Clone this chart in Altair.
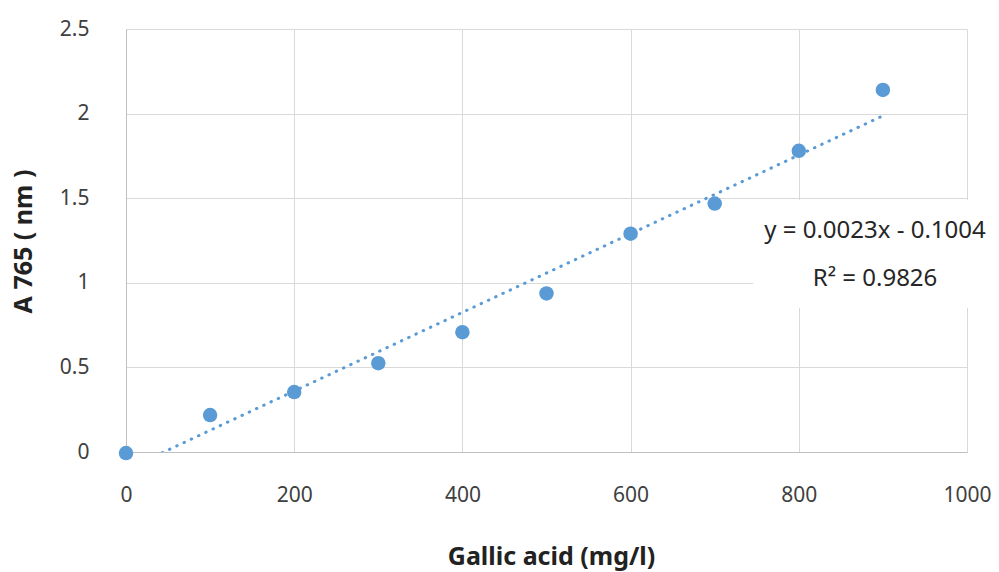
import altair as alt
import pandas as pd

gallic = [0, 100, 200, 300, 400, 500, 600, 700, 800, 900]
absorb = [-0.006, 0.218, 0.354, 0.525, 0.708, 0.937, 1.29, 1.468, 1.78, 2.14]
eq_lines = ["y = 0.0023x - 0.1004", "R² = 0.9826"]

df = pd.DataFrame({"x": gallic, "y": absorb})
blue = "#5B9BD5"
font = "Noto Sans"

xs = alt.Scale(domain=[0, 1000], nice=False)
ys = alt.Scale(domain=[0, 2.5], nice=False)

xaxis = alt.Axis(values=list(range(0, 1001, 200)), title="Gallic acid (mg/l)", grid=True, format="d",
                 ticks=False, labelPadding=32, labelFontSize=21, labelFont=font, labelColor="#404040",
                 labelFlush=False,
                 titleFont=font, titleFontSize=25, titleFontWeight="bold", titleColor="#222222",
                 titleX=425, titleY=104, titleBaseline="middle", titleAlign="center",
                 domainColor="#bfbfbf", gridColor="#d9d9d9")
yaxis = alt.Axis(values=[0, 0.5, 1, 1.5, 2, 2.5], title="A 765 ( nm )", grid=True, format="~g",
                 ticks=False, labelPadding=37, labelFontSize=21, labelFont=font, labelColor="#404040",
                 labelFlush=False,
                 titleFont=font, titleFontSize=25, titleFontWeight="bold", titleColor="#222222",
                 titleX=-103, titleY=212, titleBaseline="middle", titleAlign="center", titleAngle=-90,
                 domainColor="#bfbfbf", gridColor="#d9d9d9")

base = alt.Chart(df)

trend = base.transform_regression("x", "y", extent=[0, 900]).mark_line(
    color=blue, strokeWidth=3, strokeDash=[0.5, 7.5], strokeCap="round", clip=True
).encode(x=alt.X("x:Q", scale=xs, axis=xaxis), y=alt.Y("y:Q", scale=ys, axis=yaxis))

points = base.mark_circle(size=210, color=blue, opacity=1).encode(
    x=alt.X("x:Q", scale=xs), y=alt.Y("y:Q", scale=ys))

box = alt.Chart(pd.DataFrame({"a": [0]})).mark_rect(color="white").encode(
    x=alt.value(627), x2=alt.value(843), y=alt.value(171), y2=alt.value(279))

eq1 = alt.Chart(pd.DataFrame({"t": [eq_lines[0]]})).mark_text(
    font=font, fontSize=24, color="#262626", align="center", baseline="middle"
).encode(text="t:N", x=alt.value(749), y=alt.value(202))
eq2 = alt.Chart(pd.DataFrame({"t": [eq_lines[1]]})).mark_text(
    font=font, fontSize=24, color="#262626", align="center", baseline="middle"
).encode(text="t:N", x=alt.value(749), y=alt.value(250))

chart = alt.layer(trend, box, eq1, eq2, points).properties(
    width=841, height=423,
    autosize=alt.AutoSizeParams(type="none"),
    padding={"left": 126, "top": 29, "right": 32, "bottom": 120},
).configure_view(stroke=None)

chart.save("out.html", embed_options={"renderer": "svg", "actions": False})
